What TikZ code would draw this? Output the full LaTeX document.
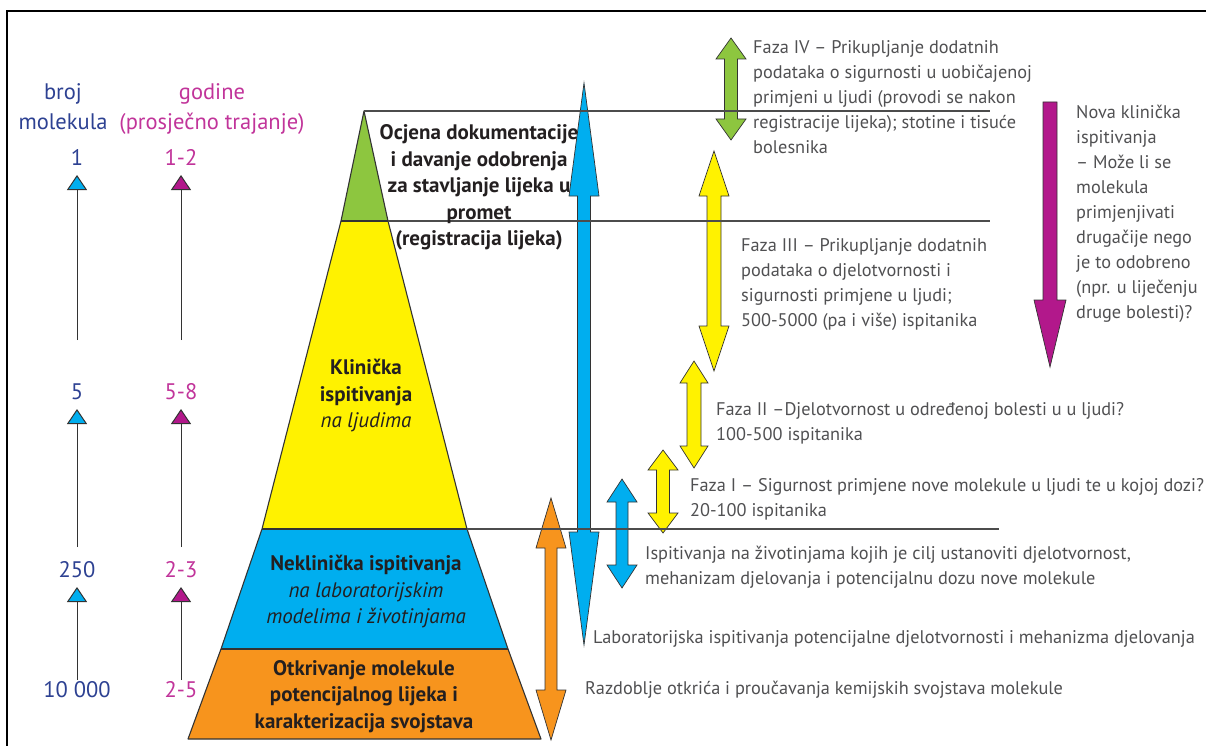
\documentclass[tikz,border=0pt]{standalone}
\usepackage{fontspec}
\setmainfont{PT Sans}
\usetikzlibrary{arrows.meta}
\definecolor{cgreen}{HTML}{8DC63F}
\definecolor{cyellow}{HTML}{FFF200}
\definecolor{cblue}{HTML}{00AEEF}
\definecolor{corange}{HTML}{F7941D}
\definecolor{cmag}{HTML}{B2188B}
\definecolor{tmag}{HTML}{C1349A}
\definecolor{tblue}{HTML}{2D4192}
\definecolor{tgray}{HTML}{505052}
\definecolor{tdark}{HTML}{231F20}
\definecolor{edge}{HTML}{333333}
\newcommand\dblarr[8]{% name, c, t, b, h, hw, sw, colour
  \draw[arrowshape, fill=#8] (#2,#3) coordinate (#1-top) -- (#2+#6,#3+#5) -- (#2+#7,#3+#5) -- (#2+#7,#4-#5) -- (#2+#6,#4-#5) -- (#2,#4) coordinate (#1-bot) -- (#2-#6,#4-#5) -- (#2-#7,#4-#5) -- (#2-#7,#3+#5) -- (#2-#6,#3+#5) -- cycle;}
\begin{document}
\begin{tikzpicture}[x=1pt,y=-1pt,
  arrowshape/.style={draw=edge, line width=0.7pt, line join=miter},
  band/.style={draw=edge, line width=1.1pt, line join=round},
  sepline/.style={draw=black!70, line width=1.3pt},
  rtext/.style={font=\fontsize{18.3}{25}\selectfont, text=tgray, align=left, anchor=north west, inner sep=0pt},
  ptext/.style={font=\bfseries\fontsize{21}{26.5}\selectfont, text=tdark, align=center, anchor=north, inner sep=0pt},
  ltext/.style={font=\fontsize{22.5}{30}\selectfont, align=center, anchor=north, inner sep=0pt},
  num/.style={font=\fontsize{22.5}{24}\selectfont, inner sep=0pt},
  upblue/.style={draw=edge, line width=1pt, -{Triangle[width=20pt,length=15pt,fill=cblue]}},
  upmag/.style={draw=edge, line width=1pt, -{Triangle[width=20pt,length=15pt,fill=cmag]}}
]
\useasboundingbox (0,0) rectangle (1206,746);
% frame
\draw[line width=2pt, line cap=rect] (7,746) coordinate (fb) -- (7,11) coordinate (fc) -- (1206,11) coordinate (fr);

% pyramid
\fill[cgreen] (364,111) -- (388,221) -- (341,221) -- cycle;
\fill[cyellow] (341,221) -- (388,221) -- (467,529) -- (262,529) -- cycle;
\fill[cblue] (262,529) -- (467,529) -- (508,649) -- (221,649) -- cycle;
\fill[corange] (221,649) -- (508,649) -- (541,739) -- (188,739) -- cycle;
\draw[band] (364,111) coordinate (apex) -- (388,221) -- (467,529) -- (508,649) -- (541,739) -- (188,739) -- (221,649) -- (262,529) -- (341,221) -- cycle;
\draw[band] (341,221) -- (388,221);
\draw[band] (262,529) -- (467,529);
\draw[band] (221,649) -- (508,649);

% arrows
\dblarr{bigblue}{584}{83}{645}{113}{15}{6.5}{cblue}
\dblarr{fourth}{731}{38}{140}{21}{15}{6.5}{cgreen}
\dblarr{third}{714}{151}{371}{45}{15}{7}{cyellow}
\dblarr{second}{694}{361}{468}{22}{14}{7}{cyellow}
\dblarr{first}{663}{450}{533}{20}{15}{6.5}{cyellow}
\dblarr{smallblue}{622}{479}{588}{23}{15}{6}{cblue}
\dblarr{orangearr}{551}{498}{740}{50}{15}{6}{corange}
\draw[arrowshape, fill=cmag] (1043,102) coordinate (magtop) -- (1057,102) -- (1057,300) -- (1066,300) -- (1050,367) coordinate (magtip) -- (1034,300) -- (1043,300) -- cycle;

% separating lines
\draw[sepline] (apex) -- (990,111) coordinate (l1e);
\draw[sepline] (388,221) coordinate (l2s) -- (990,221) coordinate (l2e);
\draw[sepline] (467,529) coordinate (l3s) -- (999,529) coordinate (l3e);

% left column
\node[ltext, text=tblue] (broj) at (63,83) {broj\\molekula};
\node[ltext, text=tmag] (godine) at (212,83) {godine\\(prosječno trajanje)};
\node[num, text=tblue] (b1) at (77,157) {1};
\node[num, text=tblue] (b2) at (77,392) {5};
\node[num, text=tblue] (b3) at (77,570) {250};
\node[num, text=tblue] (b4) at (77,690) {10 000};
\node[num, text=tmag] (g1) at (181,157) {1-2};
\node[num, text=tmag] (g2) at (181,392) {5-8};
\node[num, text=tmag] (g3) at (181,570) {2-3};
\node[num, text=tmag] (g4) at (181,690) {2-5};
\draw[upblue] (77,340) coordinate (bl1) -- (77,175);
\draw[upblue] (77,547) coordinate (bl2) -- (77,409);
\draw[upblue] (77,680) coordinate (bl3) -- (77,587);
\draw[upmag] (181,340) coordinate (gl1) -- (181,175);
\draw[upmag] (181,547) coordinate (gl2) -- (181,409);
\draw[upmag] (181,680) coordinate (gl3) -- (181,587);

% pyramid texts
\node[ptext] (ocjena) at (479,124.5) {Ocjena dokumentacije\\i davanje odobrenja\\za stavljanje lijeka u\\promet\\(registracija lijeka)};
\node[ptext] (klin) at (366,359) {Klinička\\ispitivanja\\\mdseries\itshape na ljudima};
\node[ptext] (nekl) at (366,555) {Neklinička ispitivanja\\\mdseries\itshape na laboratorijskim\\\mdseries\itshape modelima i životinjama};
\node[ptext] (otkr) at (364,660) {Otkrivanje molekule\\potencijalnog lijeka i\\karakterizacija svojstava};

% right texts
\node[rtext] (t4) at (753,40.2) {Faza IV – Prikupljanje dodatnih\\podataka o sigurnosti u uobičajenoj\\primjeni u ljudi (provodi se nakon\\registracije lijeka); stotine i tisuće\\bolesnika};
\node[rtext] (tnova) at (1076,105.2) {Nova klinička\\ispitivanja\\– Može li se\\molekula\\primjenjivati\\drugačije nego\\je to odobreno\\(npr. u liječenju\\druge bolesti)?};
\node[rtext] (t3) at (741,238.2) {Faza III – Prikupljanje dodatnih\\podataka o djelotvornosti i\\sigurnosti primjene u ljudi;\\500-5000 (pa i više) ispitanika};
\node[rtext] (t2) at (716,402.2) {Faza II –Djelotvornost u određenoj bolesti u u ljudi?\\100-500 ispitanika};
\node[rtext] (t1) at (690,478.2) {Faza I – Sigurnost primjene nove molekule u ljudi te u kojoj dozi?\\20-100 ispitanika};
\node[rtext] (tisp) at (645,546.2) {Ispitivanja na životinjama kojih je cilj ustanoviti djelotvornost,\\mehanizam djelovanja i potencijalnu dozu nove molekule};
\node[rtext] (tlab) at (593,630.2) {Laboratorijska ispitivanja potencijalne djelotvornosti i mehanizma djelovanja};
\node[rtext] (traz) at (585,681.2) {Razdoblje otkrića i proučavanja kemijskih svojstava molekule};
\end{tikzpicture}
\end{document}
